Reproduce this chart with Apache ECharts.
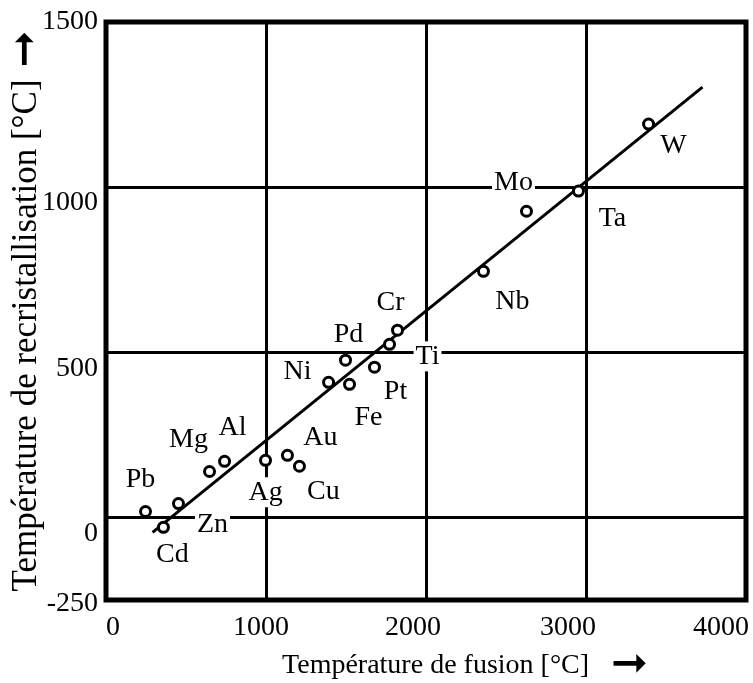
<!DOCTYPE html>
<html><head><meta charset="utf-8">
<script src="https://cdn.jsdelivr.net/npm/echarts@6/dist/echarts.min.js"></script>
<style>html,body{margin:0;padding:0;background:#fff}#c{width:753px;height:683px}</style>
</head><body><div id="c"></div>
<script>
// ---- data ----
const elements     = ['Pb','Cd','Zn','Mg','Al','Ag','Au','Cu','Ni','Pd','Fe','Pt','Ti','Cr','Nb','Mo','Ta','W'];
const meltingPoint = [247, 359, 453, 647, 741, 997, 1134, 1209, 1391, 1497, 1522, 1678, 1772, 1822, 2359, 2628, 2953, 3391];
const recrystTemp  = [18, -30, 42, 139, 170, 173, 188, 155, 409, 476, 403, 455, 524, 567, 745, 927, 988, 1191];
const trendX = [291, 3728];
const trendY = [-45, 1303];
const xTicks = [0, 1000, 2000, 3000, 4000];
const yTicks = [-250, 0, 500, 1000, 1500];
const xGridValues = [1000, 2000, 3000];
const yGridValues = [0, 500, 1000];
const xTitle = 'Température de fusion [°C]';
const yTitle = 'Température de recristallisation [°C]';

// ---- styling (label placement) ----
const FONT = '"Liberation Serif","Times New Roman",serif';
const ARROW_FONT = '"DejaVu Sans",sans-serif';
const labelOffset = {Pb:[-5,-32], Cd:[9,27], Zn:[34,21], Mg:[-21,-32], Al:[8,-34], Ag:[0,32], Au:[33,-18],
  Cu:[24,25], Ni:[-31,-11], Pd:[3,-26], Fe:[19,33], Pt:[21,24], Ti:[38,12], Cr:[-7,-28], Nb:[29,30],
  Mo:[-13,-29], Ta:[34,28], W:[25,22]};
const whiteBg = ['Zn','Ag','Mo','Ti'];
const yShift = {'-250':8, '0':32, '500':32, '1000':30, '1500':0};
const xShift = {'0':[0,0,0,14], '1000':[0,10,0,0], '2000':[0,26,0,0], '3000':[0,36,0,0], '4000':[0,50,0,0]};

const pts = elements.map((n,i) => ({
  name: n,
  value: [meltingPoint[i], recrystTemp[i]],
  label: Object.assign({offset: labelOffset[n]},
    whiteBg.includes(n) ? {backgroundColor:'#fff', padding:[1,2]} : {})
}));

const xRich = {}, yRich = {};
xTicks.forEach((v,i)=>{ xRich['x'+i] = {fontFamily:FONT, fontSize:28, color:'#000', padding:xShift[String(v)]}; });
yTicks.forEach((v,i)=>{ yRich['y'+i] = {fontFamily:FONT, fontSize:28, color:'#000', padding:[yShift[String(v)],0,0,0]}; });

const chart = echarts.init(document.getElementById('c'), null, {renderer:'canvas'});
chart.setOption({
  animation: false,
  backgroundColor: '#fff',
  grid: {left:106, top:22, width:640, height:578, containLabel:false, outerBoundsMode:'none',
         show:true, borderColor:'#000', borderWidth:5, backgroundColor:'transparent'},
  xAxis: {
    type:'value', min:0, max:4000, interval:1000,
    axisLine:{show:false}, axisTick:{show:false},
    splitLine:{show:false},
    axisLabel:{margin:14, formatter: v => { const i = xTicks.indexOf(v); return i<0 ? '' : '{x'+i+'|'+v+'}'; }, rich:xRich},
    name: '{t|'+xTitle+'}{a|➞}', nameLocation:'middle', nameGap:44, nameMoveOverlap:false,
    nameTextStyle:{rich:{
      t:{fontFamily:FONT, fontSize:28, color:'#000', padding:[0,22,0,78]},
      a:{fontFamily:ARROW_FONT, fontSize:44, color:'#000'}
    }}
  },
  yAxis: {
    type:'value', min:-250, max:1500, interval:250,
    axisLine:{show:false}, axisTick:{show:false},
    splitLine:{show:false},
    axisLabel:{margin:8, formatter: v => { const i = yTicks.indexOf(v); return i<0 ? '' : '{y'+i+'|'+v+'}'; }, rich:yRich},
    name: '{t|'+yTitle+'}{a|➞}', nameLocation:'middle', nameGap:57, nameRotate:90, nameMoveOverlap:false,
    nameTextStyle:{rich:{
      t:{fontFamily:FONT, fontSize:35, color:'#000', padding:[0,12,0,0]},
      a:{fontFamily:ARROW_FONT, fontSize:44, color:'#000'}
    }}
  },
  series: [
    {
      type:'line', data: trendX.map((x,i)=>[x, trendY[i]]), symbol:'none',
      lineStyle:{color:'#000', width:3}, z:3, silent:true,
      markLine:{
        silent:true, symbol:'none', label:{show:false},
        lineStyle:{color:'#000', width:3, type:'solid', opacity:1},
        data: yGridValues.map(v=>({yAxis:v})).concat(xGridValues.map(v=>({xAxis:v})))
      }
    },
    {
      type:'scatter', data: pts, symbol:'circle', symbolSize:10, z:5,
      itemStyle:{color:'#fff', borderColor:'#000', borderWidth:3, opacity:1},
      label:{show:true, position:'inside', formatter:'{b}', fontFamily:FONT, fontSize:28, color:'#000', textBorderWidth:0}
    }
  ]
});
</script></body></html>
